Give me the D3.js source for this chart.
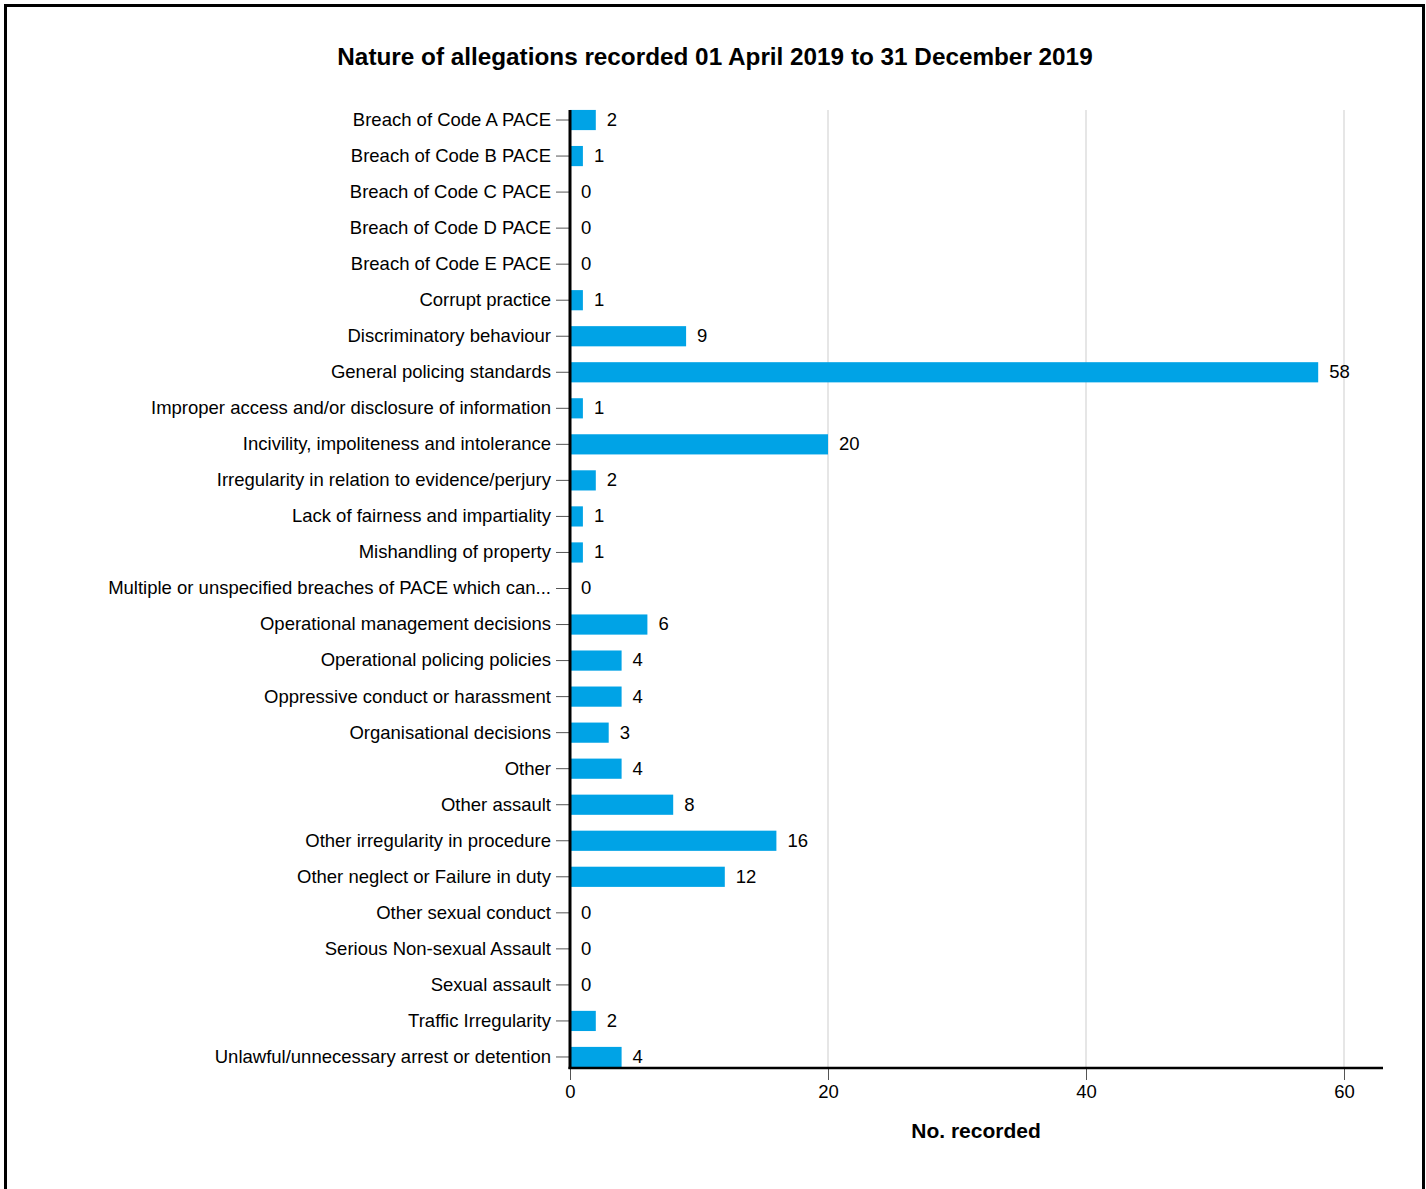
<!DOCTYPE html>
<html><head><meta charset="utf-8">
<script src="https://cdn.jsdelivr.net/npm/d3@7"></script>
<style>
body{margin:0;background:#fff;}
svg{display:block;font-family:"Liberation Sans",Arial,sans-serif;}
</style></head>
<body>
<svg id="c" width="1426" height="1189"></svg>
<script>
const categories = [
"Breach of Code A PACE","Breach of Code B PACE","Breach of Code C PACE","Breach of Code D PACE","Breach of Code E PACE",
"Corrupt practice","Discriminatory behaviour","General policing standards","Improper access and/or disclosure of information",
"Incivility, impoliteness and intolerance","Irregularity in relation to evidence/perjury","Lack of fairness and impartiality",
"Mishandling of property","Multiple or unspecified breaches of PACE which can...","Operational management decisions",
"Operational policing policies","Oppressive conduct or harassment","Organisational decisions","Other","Other assault",
"Other irregularity in procedure","Other neglect or Failure in duty","Other sexual conduct","Serious Non-sexual Assault",
"Sexual assault","Traffic Irregularity","Unlawful/unnecessary arrest or detention"];
const values = [2,1,0,0,0,1,9,58,1,20,2,1,1,0,6,4,4,3,4,8,16,12,0,0,0,2,4];
const xTicks = [0,20,40,60];
const title = "Nature of allegations recorded 01 April 2019 to 31 December 2019";
const xTitle = "No. recorded";

const svg = d3.select("#c");
// frame
svg.append("rect").attr("x",5.5).attr("y",5.5).attr("width",1418).attr("height",1200)
  .attr("fill","none").attr("stroke","#000").attr("stroke-width",3);

const x = d3.scaleLinear().domain([0,60]).range([570,1344]);
const y = d3.scaleBand().domain(categories).range([102,1075]).paddingInner(0.44).paddingOuter(0.22);
const axisY = 1068, axisEnd = 1383;
const plotTop = y(categories[0]);
const fs = 18.5;

svg.append("text").attr("x",715).attr("y",65).attr("text-anchor","middle")
  .attr("font-size",24.3).attr("font-weight","bold").text(title);

// grid
svg.append("g").selectAll("line").data(xTicks.filter(d=>d>0)).join("line")
  .attr("x1",d=>x(d)).attr("x2",d=>x(d)).attr("y1",plotTop).attr("y2",axisY)
  .attr("stroke","#e6e6e6").attr("stroke-width",2);

// bars
svg.append("g").selectAll("rect").data(values).join("rect")
  .attr("x",x(0)).attr("y",(d,i)=>y(categories[i]))
  .attr("width",d=>x(d)-x(0)).attr("height",y.bandwidth()).attr("fill","#00a3e6");

// value labels
svg.append("g").selectAll("text").data(values).join("text")
  .attr("x",d=>x(d)+11).attr("y",(d,i)=>y(categories[i])+y.bandwidth()/2)
  .attr("dy","0.32em").attr("font-size",fs).attr("fill","#000").text(d=>d);

// y axis
const yAxis = d3.axisLeft(y).tickSize(13).tickPadding(5);
const gy = svg.append("g").attr("transform",`translate(${x(0)-1},0)`).call(yAxis);
gy.select(".domain").remove();
gy.selectAll(".tick line").attr("stroke","#555").attr("stroke-width",1);
gy.selectAll(".tick text").attr("font-size",fs).attr("fill","#000")
  .attr("font-family","'Liberation Sans',Arial,sans-serif");

// x axis
const xAxis = d3.axisBottom(x).tickValues(xTicks).tickSize(12).tickPadding(5);
const gx = svg.append("g").attr("transform",`translate(0,${axisY})`).call(xAxis);
gx.select(".domain").remove();
gx.selectAll(".tick line").attr("stroke","#555").attr("stroke-width",1);
gx.selectAll(".tick text").attr("font-size",fs).attr("fill","#000")
  .attr("font-family","'Liberation Sans',Arial,sans-serif");

// axis lines
svg.append("line").attr("x1",x(0)).attr("x2",x(0)).attr("y1",plotTop).attr("y2",axisY+1)
  .attr("stroke","#000").attr("stroke-width",3);
svg.append("line").attr("x1",x(0)-1.5).attr("x2",axisEnd).attr("y1",axisY).attr("y2",axisY)
  .attr("stroke","#000").attr("stroke-width",2.5);

svg.append("text").attr("x",976).attr("y",1138).attr("text-anchor","middle")
  .attr("font-size",21).attr("font-weight","bold").text(xTitle);
</script>
</body></html>
